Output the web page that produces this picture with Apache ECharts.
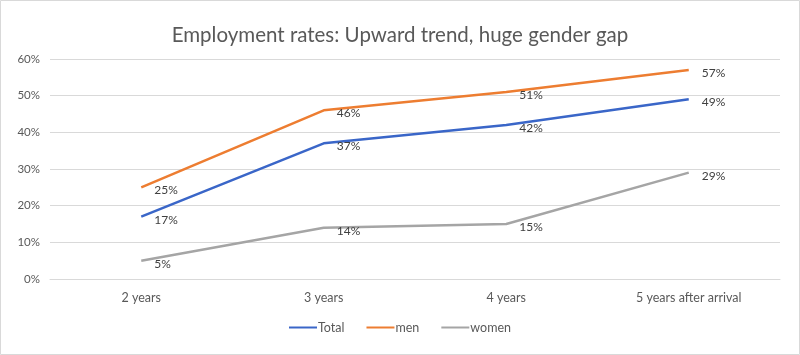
<!DOCTYPE html>
<html><head><meta charset="utf-8">
<script src="https://cdn.jsdelivr.net/npm/echarts@6/dist/echarts.min.js"></script>
<style>html,body{margin:0;padding:0;background:#fff}#c{width:800px;height:355px}</style>
</head><body><div id="c"></div>
<script>
const categories = ['2 years', '3 years', '4 years', '5 years after arrival'];
const totalValues = [17, 37, 42, 49];
const menValues = [25, 46, 51, 57];
const womenValues = [5, 14, 15, 29];
const yTicks = { min: 0, max: 60, interval: 10 };

const FONT = 'Lato, "Open Sans", sans-serif';
const chart = echarts.init(document.getElementById('c'), null, { renderer: 'canvas' });
function mkSeries(name, data, color) {
  return {
    name, type: 'line', data, symbol: 'circle', symbolSize: 0, showSymbol: true, smooth: false,
    lineStyle: { color, width: 2.5 }, itemStyle: { color },
    label: { show: true, position: 'right', distance: 13, offset: [0, 3],
      formatter: p => p.value + '%', color: '#404040', fontSize: 12, fontFamily: FONT }
  };
}
chart.setOption({
  animation: false,
  graphic: [{ type: 'rect', shape: { x: 0.5, y: 0.5, width: 799, height: 354 },
    style: { fill: 'none', stroke: '#d9d9d9', lineWidth: 1 }, silent: true }],
  title: { text: 'Employment rates: Upward trend, huge gender gap', left: 'center', top: 20,
    textStyle: { fontFamily: FONT, fontSize: 20.5, fontWeight: 'normal', color: '#595959' } },
  grid: { left: 50, right: 20, top: 59, bottom: 76 },
  legend: { bottom: 16, left: 'center', itemWidth: 28, itemHeight: 2, itemGap: 22,
    icon: 'rect',
    textStyle: { fontFamily: FONT, fontSize: 12.5, color: '#595959', padding: [0, 0, 0, -4] },
    data: ['Total', 'men', 'women'] },
  xAxis: { type: 'category', data: categories, boundaryGap: true,
    axisLine: { show: true, lineStyle: { color: '#d9d9d9' } }, axisTick: { show: false },
    axisLabel: { color: '#595959', fontSize: 12.5, fontFamily: FONT, margin: 12 } },
  yAxis: { type: 'value', min: yTicks.min, max: yTicks.max, interval: yTicks.interval,
    axisLine: { show: false }, axisTick: { show: false },
    splitLine: { lineStyle: { color: '#d9d9d9', width: 1 } },
    axisLabel: { formatter: '{value}%', color: '#595959', fontSize: 11.5, fontFamily: FONT, margin: 10 } },
  series: [
    mkSeries('Total', totalValues, '#3A66C8'),
    mkSeries('men', menValues, '#ED7D31'),
    mkSeries('women', womenValues, '#A5A5A5')
  ]
});
</script></body></html>
